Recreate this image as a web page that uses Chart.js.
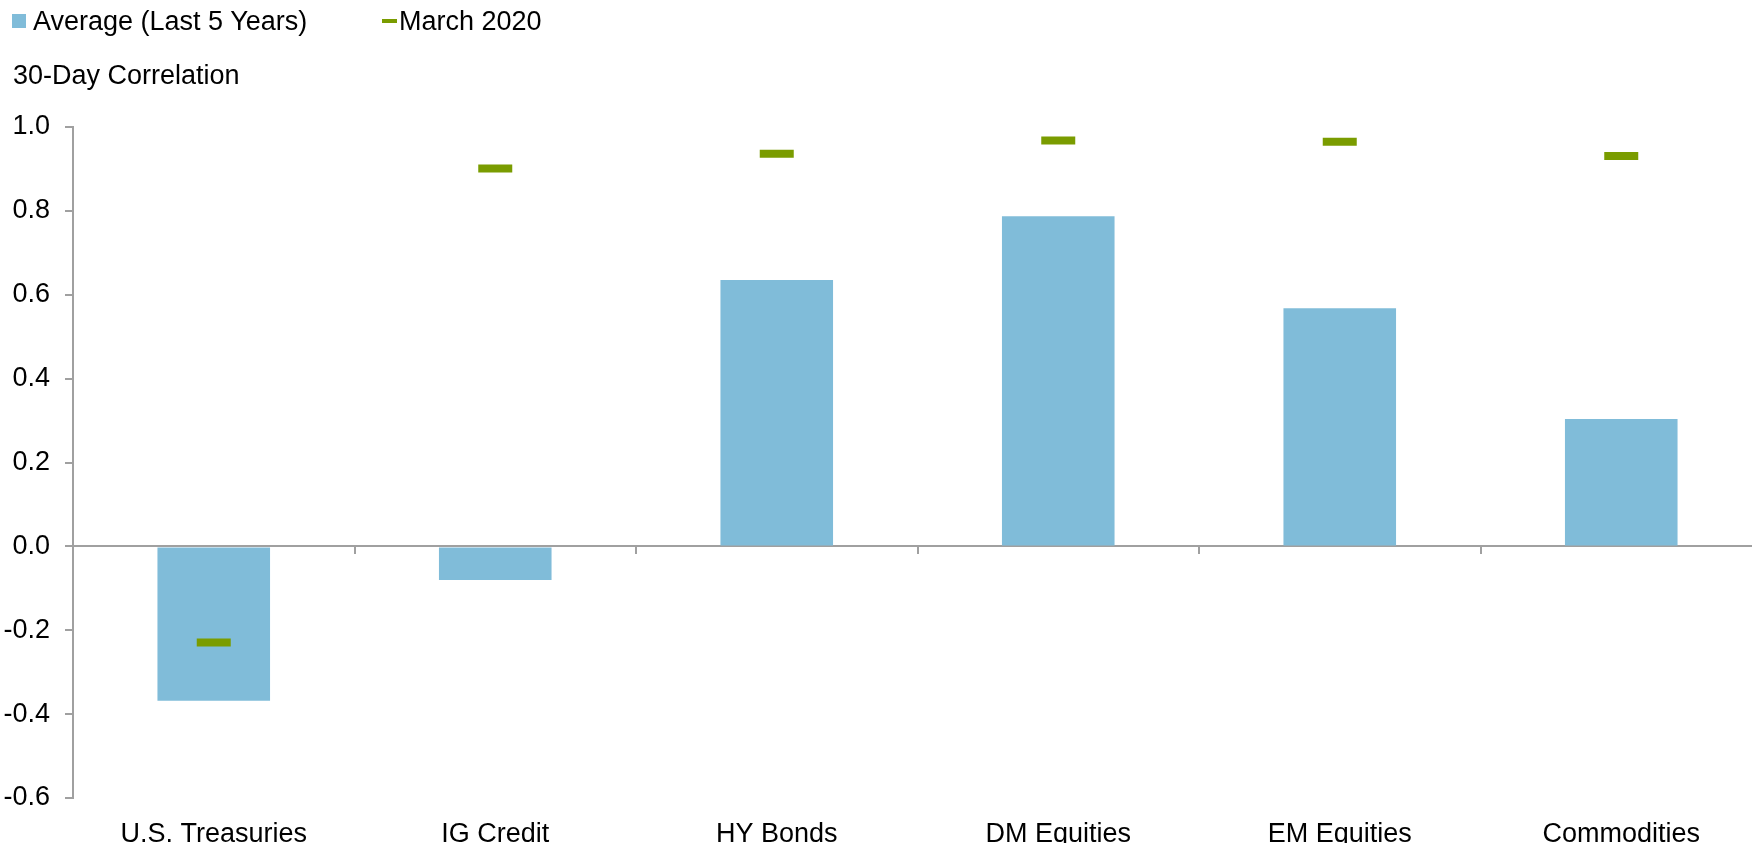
<!DOCTYPE html>
<html>
<head>
<meta charset="utf-8">
<script src="https://cdn.jsdelivr.net/npm/chart.js@4/dist/chart.umd.min.js"></script>
<style>
  html, body { margin: 0; padding: 0; background: #fff; overflow: hidden; width: 1752px; height: 843px; }
  body { position: relative; font-family: "Liberation Sans", Arial, sans-serif; color: #000; }
  #wrap { position: absolute; left: 0; top: 0; width: 1762px; height: 860px; }
  #legend { position: absolute; left: 12px; top: 6px; font-size: 27px; line-height: 30px; white-space: nowrap; z-index: 2; }
  #legend span.item { position: absolute; top: 0; display: inline-flex; align-items: center; }
  #legend i { display: inline-block; }
  #subtitle { position: absolute; left: 13px; top: 60px; font-size: 27px; line-height: 30px; z-index: 2; }
</style>
</head>
<body>
<div id="legend"></div>
<div id="subtitle">30-Day Correlation</div>
<div id="wrap"><canvas id="grafico" width="1762" height="860"></canvas></div>
<script>
const categorias = ["U.S. Treasuries", "IG Credit", "HY Bonds", "DM Equities", "EM Equities", "Commodities"];
const promedio5a = [-0.368, -0.080, 0.635, 0.787, 0.568, 0.304];
const marzo2020 = [-0.229, 0.901, 0.936, 0.968, 0.965, 0.931];
const ticksY = [-0.6, -0.4, -0.2, 0.0, 0.2, 0.4, 0.6, 0.8, 1.0];

const azul = "#80bcd9";
const verde = "#7a9c00";
const gris = "#a0a0a0";
const fuente = { family: "'Liberation Sans', Arial, sans-serif", size: 27 };

// leyenda en HTML a partir de los datasets
function pintarLeyenda(datasets) {
  const cont = document.getElementById("legend");
  const lefts = [0, 370];
  datasets.forEach((ds, i) => {
    const item = document.createElement("span");
    item.className = "item";
    item.style.left = lefts[i] + "px";
    const marca = document.createElement("i");
    if (ds.type === "line") {
      marca.style.width = "15px"; marca.style.height = "4px"; marca.style.background = ds.borderColor;
      marca.style.marginRight = "2px";
    } else {
      marca.style.width = "14px"; marca.style.height = "14px"; marca.style.background = ds.backgroundColor;
      marca.style.marginRight = "7px";
    }
    item.appendChild(marca);
    item.appendChild(document.createTextNode(ds.label));
    cont.appendChild(item);
  });
}

// linea del cero con marcas entre categorias
const lineaCero = {
  id: "lineaCero",
  beforeDatasetsDraw(chart) {
    const { ctx, chartArea } = chart;
    const x = chart.scales.x, y = chart.scales.y;
    const y0 = Math.round(y.getPixelForValue(0));
    ctx.save();
    ctx.strokeStyle = gris;
    ctx.lineWidth = 2;
    ctx.beginPath();
    ctx.moveTo(chartArea.left, y0);
    ctx.lineTo(chartArea.right, y0);
    for (let i = 1; i < categorias.length; i++) {
      const xb = Math.round((x.getPixelForValue(i - 1) + x.getPixelForValue(i)) / 2);
      ctx.moveTo(xb, y0);
      ctx.lineTo(xb, y0 + 8);
    }
    ctx.stroke();
    ctx.restore();
  }
};

const datasets = [
  {
    type: "line", label: "March 2020", data: marzo2020,
    showLine: false, borderColor: verde, backgroundColor: verde,
    pointStyle: "line", pointRadius: 17, pointHoverRadius: 17,
    pointBorderWidth: 8, pointHoverBorderWidth: 8, order: 0
  },
  {
    type: "bar", label: "Average (Last 5 Years)", data: promedio5a,
    backgroundColor: azul, borderWidth: 0,
    barPercentage: 0.4, categoryPercentage: 1.0, order: 1
  }
];

pintarLeyenda([datasets[1], datasets[0]]);

const ctx = document.getElementById("grafico").getContext("2d");
new Chart(ctx, {
  data: { labels: categorias, datasets: datasets },
  options: {
    responsive: false,
    animation: false,
    events: [],
    layout: { autoPadding: false, padding: { top: 127, left: 0, right: 0, bottom: 0 } },
    plugins: { legend: { display: false }, tooltip: { enabled: false }, title: { display: false } },
    scales: {
      x: {
        type: "category",
        grid: { display: false },
        border: { display: false },
        ticks: { color: "#000", font: fuente, padding: 12, maxRotation: 0, autoSkip: false },
        afterFit: s => { s.height = 62; }
      },
      y: {
        min: -0.6, max: 1.0,
        afterBuildTicks: s => { s.ticks = ticksY.map(v => ({ value: v })); },
        grid: { display: true, drawOnChartArea: false, drawTicks: true, tickLength: 8, color: gris, lineWidth: 2 },
        border: { display: true, color: gris, width: 2 },
        ticks: { color: "#000", font: fuente, padding: 15, callback: v => Number(v).toFixed(1) },
        afterFit: s => { s.width = 73; }
      }
    }
  },
  plugins: [lineaCero]
});
</script>
</body>
</html>
